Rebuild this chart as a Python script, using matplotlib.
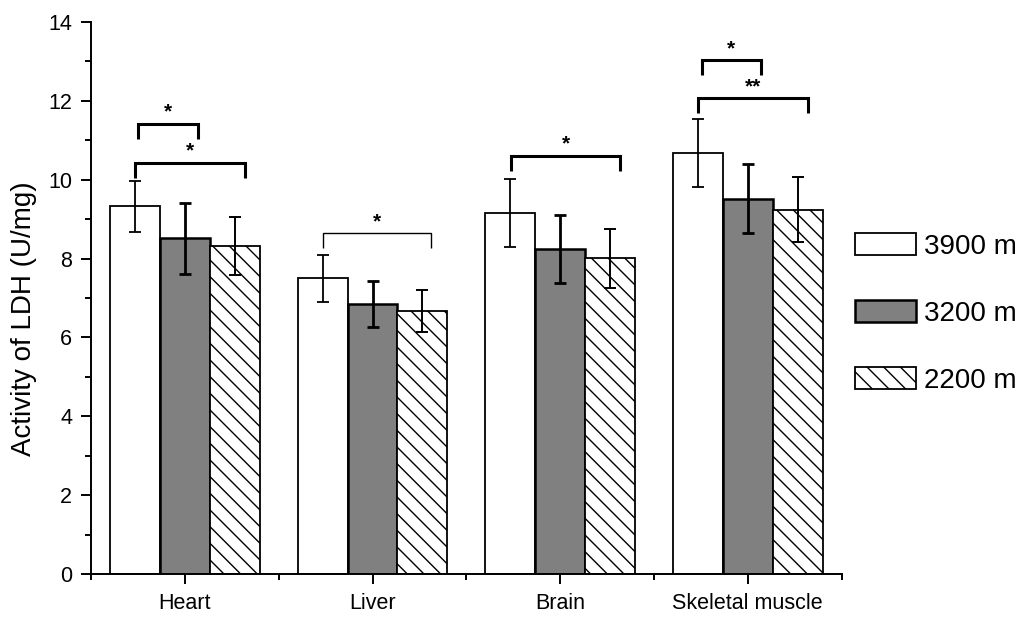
import matplotlib
matplotlib.use("Agg")
import matplotlib.pyplot as plt
import numpy as np
from matplotlib.ticker import MultipleLocator, FixedLocator

plt.rcParams['font.family'] = ['Liberation Sans', 'DejaVu Sans']
plt.rcParams['hatch.linewidth'] = 1.0

categories = ["Heart", "Liver", "Brain", "Skeletal muscle"]
series_names = ["3900 m", "3200 m", "2200 m"]
means_3900 = [9.32, 7.50, 9.15, 10.68]
means_3200 = [8.52, 6.85, 8.24, 9.52]
means_2200 = [8.32, 6.67, 8.01, 9.24]
err_3900 = [0.65, 0.60, 0.86, 0.87]
err_3200 = [0.90, 0.58, 0.86, 0.88]
err_2200 = [0.73, 0.53, 0.75, 0.83]

# significance brackets: (category index, x-offset start, x-offset end, height, label, thick)
brackets = [
    (0, -0.25, 0.07, 11.42, "*", True),
    (0, -0.266, 0.32, 10.43, "*", True),
    (1, -0.266, 0.31, 8.65, "*", False),
    (2, -0.26, 0.32, 10.61, "*", True),
    (3, -0.245, 0.07, 13.03, "*", True),
    (3, -0.266, 0.32, 12.06, "**", True),
]

fig = plt.figure(figsize=(10.24, 6.21), dpi=100)
ax = fig.add_axes([0.0889, 0.0757, 0.733, 0.889])

x = np.arange(len(categories))
w = 0.266
styles = [
    dict(color="white", hatch=None, lw=1.3),
    dict(color="#808080", hatch=None, lw=1.8),
    dict(color="white", hatch="\\\\", lw=1.3),
]
all_means = [means_3900, means_3200, means_2200]
all_errs = [err_3900, err_3200, err_2200]
ewidths = [1.3, 2.0, 1.4]
handles = []
for i, (m, e, st) in enumerate(zip(all_means, all_errs, styles)):
    pos = x + (i - 1) * w
    b = ax.bar(pos, m, width=w, color=st["color"], edgecolor="black",
               linewidth=st["lw"], hatch=st["hatch"], label=series_names[i], zorder=2)
    ax.errorbar(pos, m, yerr=e, fmt="none", ecolor="black", elinewidth=ewidths[i],
                capsize=4.5, capthick=ewidths[i], zorder=3)
    handles.append(b)

leg_h = 0.38
for ci, x0, x1, h, lab, thick in brackets:
    lw = 2.2 if thick else 1.0
    xa, xb = ci + x0, ci + x1
    ax.plot([xa, xa, xb, xb], [h - leg_h, h, h, h - leg_h], color="black",
            lw=lw, solid_capstyle="butt", solid_joinstyle="miter", zorder=4)
    ax.text((xa + xb) / 2, h + 0.05, lab, ha="center", va="bottom",
            fontsize=15, fontweight="bold")

ax.set_xlim(-0.5, 3.5)
ax.set_ylim(0, 14)
ax.spines["top"].set_visible(False)
ax.spines["right"].set_visible(False)
ax.spines["left"].set_linewidth(1.4)
ax.spines["bottom"].set_linewidth(1.4)

ax.yaxis.set_major_locator(MultipleLocator(2))
ax.yaxis.set_minor_locator(MultipleLocator(1))
ax.set_xticks(x)
ax.set_xticklabels(categories)
ax.xaxis.set_minor_locator(FixedLocator(np.arange(-0.5, 3.6, 1.0)))
ax.tick_params(axis="both", which="major", direction="out", length=7.5, width=1.4,
               labelsize=15.5, pad=6)
ax.tick_params(axis="both", which="minor", direction="out", length=4, width=1.4)
ax.set_ylabel("Activity of LDH (U/mg)", fontsize=20, labelpad=8)
ax.yaxis.label.set_y(0.462)

leg = fig.legend(handles=handles, labels=series_names, loc="upper left",
                 bbox_to_anchor=(0.835, 0.625), frameon=False, fontsize=20,
                 handlelength=2.2, handleheight=0.86, labelspacing=1.45,
                 handletextpad=0.3, borderaxespad=0, borderpad=0)

fig.savefig("out.png", dpi=100, facecolor="white")
